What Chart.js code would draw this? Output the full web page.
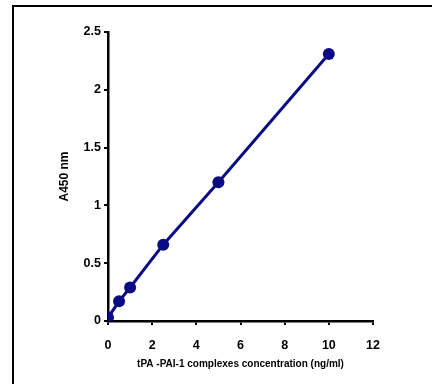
<!DOCTYPE html>
<html>
<head>
<meta charset="utf-8">
<script src="https://cdn.jsdelivr.net/npm/chart.js@4"></script>
<style>
  html, body { margin: 0; padding: 0; background: #fff; overflow: hidden; }
  #wrap { position: relative; width: 432px; height: 384px; }
  #frame {
    position: absolute; left: 12px; top: 5px;
    width: 440px; height: 400px;
    border: 2px solid #000; box-sizing: border-box;
  }
  canvas { position: absolute; left: 0; top: 0; }
</style>
</head>
<body>
<div id="wrap">
  <div id="frame"></div>
  <canvas id="chart" width="432" height="384"></canvas>
</div>
<script>
// standard curve readings
const concentrations = [0, 0.5, 1, 2.5, 5, 10];
const absorbance = [0.03, 0.17, 0.29, 0.66, 1.2, 2.31];
const xTitle = 'tPA -PAI-1 complexes concentration (ng/ml)';
const yTitle = 'A450 nm';

const navy = '#0b0b84';
const tickFont = { family: 'Liberation Sans, Arial, sans-serif', size: 12.5, weight: 'bold' };
const xTitleFont = { family: 'Liberation Sans, Arial, sans-serif', size: 10, weight: 'bold' };
const yTitleFont = { family: 'Liberation Sans, Arial, sans-serif', size: 12, weight: 'bold' };

const points = concentrations.map((x, i) => ({ x: x, y: absorbance[i] }));

// plain numbers, no trailing ".0"
function plainTick(value) {
    return String(value);
}

new Chart(document.getElementById('chart'), {
    type: 'scatter',
    data: {
        datasets: [{
            data: points,
            showLine: true,
            borderColor: navy,
            backgroundColor: navy,
            borderWidth: 3,
            pointRadius: 6,
            pointHoverRadius: 6,
            pointBorderWidth: 0
        }]
    },
    options: {
        responsive: false,
        animation: false,
        events: [],
        layout: {
            padding: { left: 57, top: 32, right: 59, bottom: 0 }
        },
        plugins: {
            legend: { display: false },
            tooltip: { enabled: false }
        },
        scales: {
            x: {
                type: 'linear',
                min: 0,
                max: 12,
                ticks: { stepSize: 2, color: '#000', font: tickFont, padding: 13, callback: plainTick },
                grid: { drawOnChartArea: false, drawTicks: true, tickLength: 4, color: '#000', lineWidth: 2 },
                border: { color: '#000', width: 2.5 },
                title: { display: true, text: xTitle, color: '#000', font: xTitleFont, padding: { top: 2, bottom: 14 } },
                afterFit: function(scale) { scale.height = 63; }
            },
            y: {
                type: 'linear',
                min: 0,
                max: 2.5,
                ticks: { stepSize: 0.5, color: '#000', font: tickFont, padding: 3, callback: plainTick },
                grid: { drawOnChartArea: false, drawTicks: true, tickLength: 4, color: '#000', lineWidth: 2 },
                border: { color: '#000', width: 2.5 },
                title: { display: true, text: yTitle, color: '#000', font: yTitleFont, padding: 0 },
                afterFit: function(scale) { scale.width = 51; }
            }
        }
    }
});
</script>
</body>
</html>
